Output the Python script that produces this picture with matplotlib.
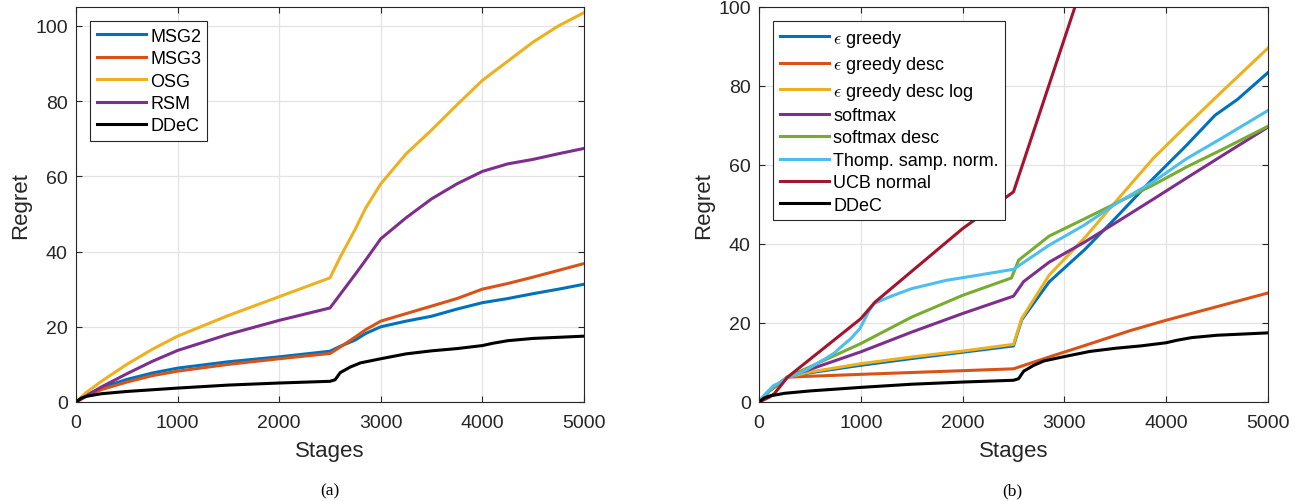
import numpy as np
import matplotlib
matplotlib.use("Agg")
import matplotlib.pyplot as plt

plt.rcParams['font.family'] = ['Liberation Sans', 'DejaVu Sans']
plt.rcParams['mathtext.fontset'] = 'cm'

# matlab default colours
C_BLUE = '#0072BD'
C_ORANGE = '#D95319'
C_YELLOW = '#EDB120'
C_PURPLE = '#7E2F8E'
C_GREEN = '#77AC30'
C_CYAN = '#4DBEEE'
C_RED = '#A2142F'

# ---- (a) ----
stages_a = [0, 100, 250, 500, 750, 1000, 1500, 2000, 2500, 2600, 2750, 2850,
            3000, 3250, 3500, 3750, 4000, 4250, 4500, 4750, 5000]
msg2 = [0, 1.8, 3.8, 6.0, 7.7, 9.0, 10.7, 12.0, 13.5, 14.8, 16.5, 18.2,
        20.0, 21.5, 22.8, 24.7, 26.4, 27.5, 28.8, 30.0, 31.3]
msg3 = [0, 1.5, 3.3, 5.3, 7.0, 8.2, 10.0, 11.5, 12.9, 14.6, 17.3, 19.2,
        21.5, 23.5, 25.5, 27.5, 30.0, 31.5, 33.2, 35.0, 36.8]
osg = [0, 2.5, 5.5, 10.0, 14.0, 17.5, 23.0, 28.0, 33.0, 38.5, 46.0, 51.5,
       58.0, 66.0, 72.3, 79.0, 85.5, 90.6, 95.7, 100.0, 103.5]
rsm = [0, 1.6, 4.0, 7.5, 10.8, 13.7, 18.0, 21.7, 25.0, 28.6, 34.0, 37.7,
       43.4, 49.0, 54.0, 58.0, 61.3, 63.3, 64.5, 66.0, 67.4]

stages_ddec = [0, 50, 100, 250, 500, 1000, 1500, 2000, 2500, 2550, 2600, 2700,
               2800, 3000, 3250, 3500, 3750, 4000, 4100, 4250, 4500, 5000]
ddec = [0, 1.0, 1.5, 2.2, 2.8, 3.7, 4.5, 5.05, 5.5, 5.9, 7.8, 9.3,
        10.4, 11.5, 12.8, 13.6, 14.2, 15.0, 15.6, 16.3, 16.9, 17.5]

# ---- (b) ----
x_eg = [0, 100, 280, 500, 1000, 1500, 2000, 2500, 2580, 2850, 3200, 3500,
        3850, 4200, 4480, 4700, 5000]
eps_greedy = [0, 2.8, 6.3, 7.4, 9.3, 11.0, 12.6, 14.2, 20.8, 30.4, 38.6, 46.5,
              56.0, 65.0, 72.6, 76.6, 83.4]

x_egd = [0, 100, 280, 1000, 2500, 2850, 3200, 3650, 4000, 5000]
eps_greedy_desc = [0, 2.8, 6.3, 7.0, 8.4, 11.4, 14.3, 18.1, 20.7, 27.6]

x_egl = [0, 100, 280, 500, 1000, 1500, 2000, 2500, 2580, 2850, 3200, 3530,
         3870, 4200, 4540, 5000]
eps_greedy_log = [0, 2.8, 6.3, 7.6, 9.7, 11.4, 12.9, 14.6, 21.1, 32.1, 41.6, 51.5,
                  61.6, 70.0, 78.4, 89.6]

x_sm = [0, 100, 280, 1000, 1500, 2000, 2500, 2600, 2850, 3200, 3530, 3870,
        4200, 4540, 5000]
softmax = [0, 2.8, 6.3, 12.7, 17.7, 22.4, 26.8, 30.5, 35.4, 40.5, 45.8, 51.3,
           56.7, 62.2, 69.6]

x_smd = [0, 100, 280, 500, 1000, 1500, 2000, 2480, 2550, 2850, 3200, 3530,
         3870, 4200, 4540, 5000]
softmax_desc = [0, 2.8, 6.3, 8.9, 14.8, 21.5, 27.0, 31.4, 35.9, 42.0, 46.4, 50.6,
                54.9, 59.5, 63.8, 69.8]

x_ts = [0, 60, 145, 200, 281, 400, 484, 560, 653, 740, 822, 900, 991, 1076,
        1127, 1300, 1500, 1840, 2175, 2500, 2850, 3190, 3530, 3870, 4200,
        4540, 5000]
thompson = [0, 2.0, 4.2, 4.8, 6.3, 7.3, 8.4, 9.6, 11.0, 12.4, 14.3, 16.0, 18.6,
            22.8, 24.9, 26.8, 28.7, 30.8, 32.2, 33.6, 39.7, 44.7, 50.6, 55.7,
            61.6, 66.7, 73.8]

x_ucb = [0, 100, 150, 281, 1000, 1140, 2000, 2500, 3110]
ucb = [0, 1.2, 2.1, 6.3, 21.1, 25.3, 43.9, 53.2, 100.5]


def style_axes(ax, ymax):
    ax.set_xlim(0, 5000)
    ax.set_ylim(0, ymax)
    ax.set_xticks([0, 1000, 2000, 3000, 4000, 5000])
    ax.set_yticks(np.arange(0, ymax + 1, 20))
    ax.grid(True, color='#e3e3e3', linewidth=0.9)
    ax.set_axisbelow(True)
    ax.tick_params(direction='in', top=True, right=True, length=4,
                   labelsize=14, colors='#262626', width=0.8)
    ax.tick_params(axis='x', pad=9)
    ax.tick_params(axis='y', pad=6)
    for s in ax.spines.values():
        s.set_color('#262626')
        s.set_linewidth(0.8)
    ax.set_xlabel('Stages', fontsize=16, color='#262626', labelpad=6)
    ax.set_ylabel('Regret', fontsize=16, color='#262626', labelpad=3)


fig = plt.figure(figsize=(13.01, 5.02), dpi=100)
ax1 = fig.add_axes([76 / 1301, 99 / 502, 508 / 1301, 395 / 502])
ax2 = fig.add_axes([759 / 1301, 99 / 502, 509 / 1301, 395 / 502])

lw = 2.2
ax1.plot(stages_a, msg2, color=C_BLUE, lw=lw, label='MSG2')
ax1.plot(stages_a, msg3, color=C_ORANGE, lw=lw, label='MSG3')
ax1.plot(stages_a, osg, color=C_YELLOW, lw=lw, label='OSG')
ax1.plot(stages_a, rsm, color=C_PURPLE, lw=lw, label='RSM')
ax1.plot(stages_ddec, ddec, color='black', lw=lw, label='DDeC')
style_axes(ax1, 105)

ax2.plot(x_eg, eps_greedy, color=C_BLUE, lw=lw, label=r'$\epsilon$ greedy')
ax2.plot(x_egd, eps_greedy_desc, color=C_ORANGE, lw=lw, label=r'$\epsilon$ greedy desc')
ax2.plot(x_egl, eps_greedy_log, color=C_YELLOW, lw=lw, label=r'$\epsilon$ greedy desc log')
ax2.plot(x_sm, softmax, color=C_PURPLE, lw=lw, label='softmax')
ax2.plot(x_smd, softmax_desc, color=C_GREEN, lw=lw, label='softmax desc')
ax2.plot(x_ts, thompson, color=C_CYAN, lw=lw, label='Thomp. samp. norm.')
ax2.plot(x_ucb, ucb, color=C_RED, lw=lw, label='UCB normal')
ax2.plot(stages_ddec, ddec, color='black', lw=lw, label='DDeC')
style_axes(ax2, 100)

for ax in (ax1, ax2):
    leg = ax.legend(loc='upper left', fontsize=13, handlelength=2.7,
                    handletextpad=0.25, labelspacing=0.3, borderpad=0.35,
                    fancybox=False, framealpha=1, edgecolor='#262626',
                    borderaxespad=0.8)
    leg.get_frame().set_linewidth(0.8)

fig.text(330 / 1301, 1 - 491 / 502, '(a)', ha='center', va='center',
         family='Liberation Serif', fontsize=12.5)
fig.text(1012 / 1301, 1 - 491 / 502, '(b)', ha='center', va='center',
         family='Liberation Serif', fontsize=12.5)

fig.savefig('out.png', dpi=100)
